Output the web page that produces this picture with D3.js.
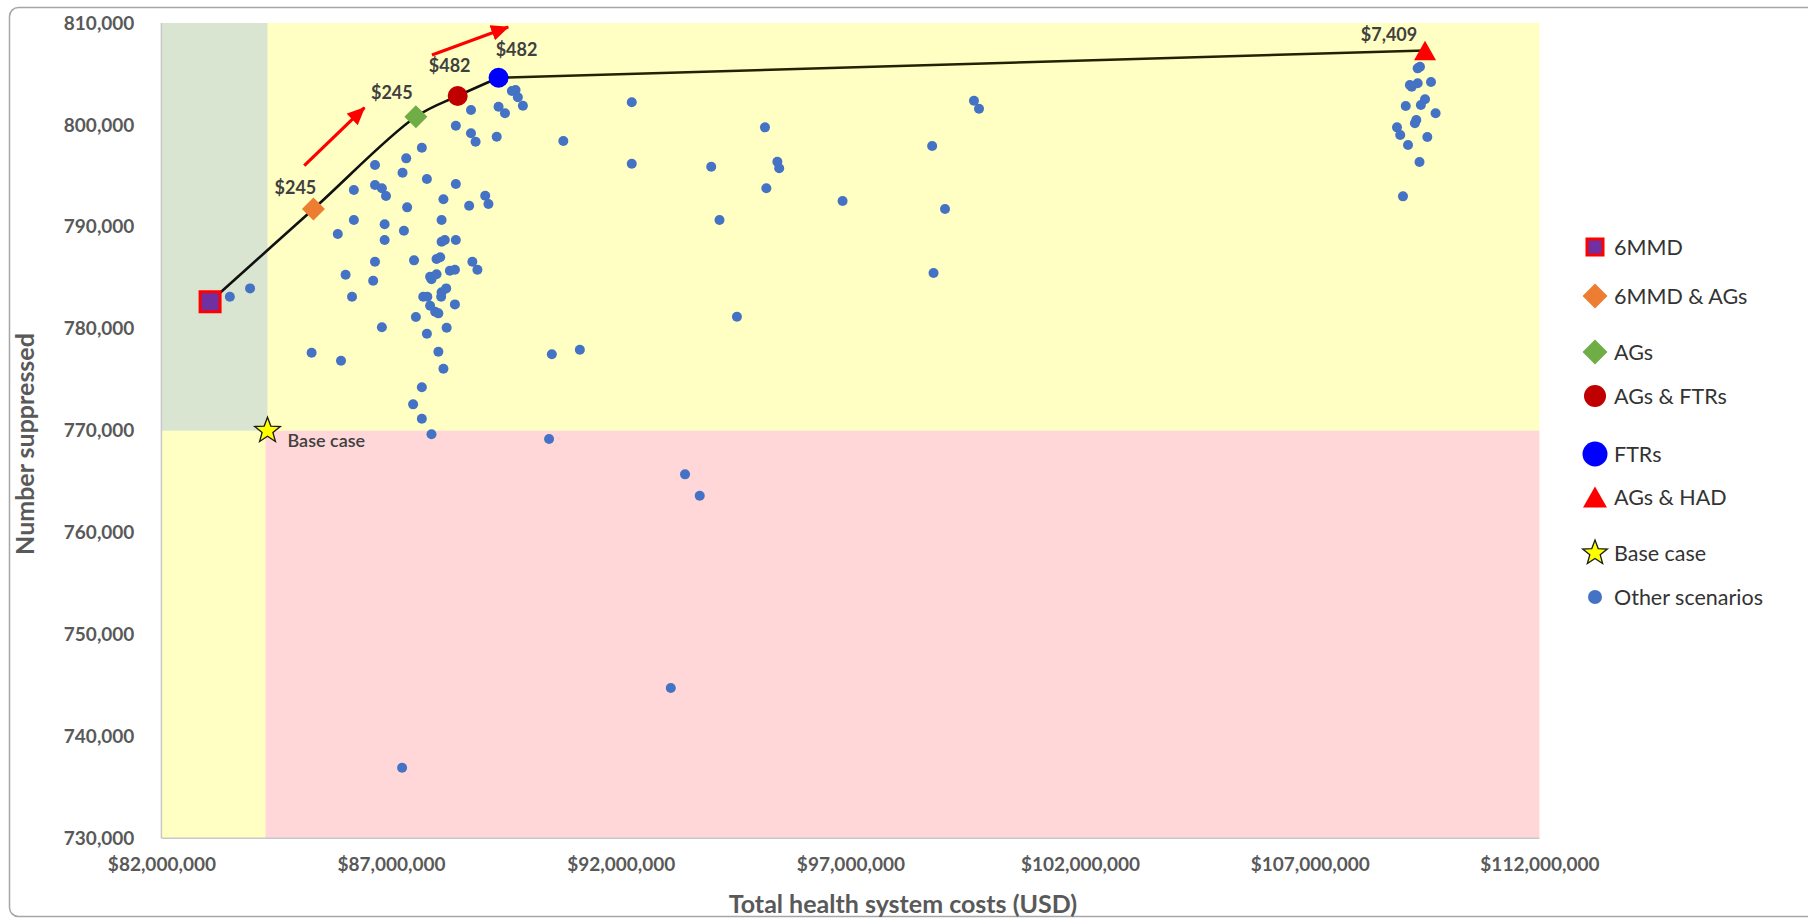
<!DOCTYPE html>
<html>
<head>
<meta charset="utf-8">
<script src="https://cdn.jsdelivr.net/npm/d3@7"></script>
<style>
  body { margin: 0; background: #fff; }
  svg text { font-family: Lato, "Open Sans", sans-serif; }
</style>
</head>
<body>
<div id="chart"></div>
<script>
// costs are in USD millions, suppressed is a head count

// the other scenarios (blue dots)
var otherCost = [
  83.49, 83.93, 86.65, 86.19, 86.65, 86.19, 85.84, 86.65, 86.01, 86.61, 86.15, 86.80, 85.27, 85.91,
  87.33, 87.67, 87.25, 86.80, 86.89, 87.78, 88.41, 88.14, 87.35, 88.70, 89.05, 89.12, 86.86, 88.10,
  87.28, 86.86, 88.10, 88.17, 88.41, 87.50, 87.99, 88.07, 88.77, 88.88, 87.85, 87.99, 87.88, 88.28,
  88.39, 88.20, 88.10, 87.70, 87.79, 88.09, 88.39, 87.85, 87.96, 88.03, 87.54, 88.21, 87.78, 88.03,
  88.14, 87.67, 87.48, 87.67, 87.88, 88.74, 88.41, 88.74, 88.84, 89.34, 89.48, 89.30, 89.63, 89.71,
  89.76, 89.87, 90.75, 90.50, 90.44,
  92.24, 92.24, 95.14, 93.97, 95.41, 95.45, 95.17, 94.15, 96.83, 98.78, 99.06, 99.69, 99.80, 98.81,
  94.53, 91.11, 93.40, 93.72, 93.09, 87.24,
  109.40, 109.35, 109.22, 109.35, 109.18, 109.64, 109.09, 109.51, 109.42, 109.74, 109.32, 109.29,
  108.90, 108.97, 109.56, 109.14, 109.39, 109.03
]
var otherSuppressed = [
  783140, 783960, 796070, 793610, 794100, 790670, 789290, 786580, 785300, 784710, 783140, 780140, 777650, 776860,
  796720, 797760, 795310, 793780, 793020, 794690, 794200, 792700, 791910, 792070, 793050, 792240, 790250, 790670,
  789620, 788700, 788540, 788700, 788700, 786710, 786840, 787010, 786580, 785790, 785100, 785340, 784850, 785690,
  785790, 783960, 783570, 783140, 783140, 783140, 782390, 782260, 781670, 781510, 781150, 780100, 779510, 777740,
  776070, 774250, 772580, 771170, 769640, 801460, 799920, 799180, 798350, 801790, 801140, 798840, 803330, 803420,
  802710, 801880, 798420, 777490, 769180,
  802220, 796190, 799760, 795900, 796390, 795740, 793780, 790670, 792530, 797930, 791750, 802370, 801590, 785470,
  781180, 777940, 765710, 763610, 744740, 736920,
  805710, 805550, 803750, 804080, 803920, 804210, 801850, 802510, 801950, 801140, 800480, 800160,
  799760, 799010, 798810, 798030, 796360, 792990
]

// scenarios on the efficiency frontier
var frontierNames = ["6MMD", "6MMD & AGs", "AGs", "AGs & FTRs", "FTRs", "AGs & HAD"]
var frontierCost = [83.06, 85.31, 87.54, 88.45, 89.34, 109.51]
var frontierSuppressed = [782650, 791750, 800800, 802840, 804630, 807300]
var frontierLabels = ["", "$245", "$245", "$482", "$482", "$7,409"]

// base case
var baseCost = 84.31
var baseSuppressed = 770000

// annotation arrows: [cost, suppressed] at tail and at head
var arrowFrom = [[85.11, 796000], [87.89, 806860]]
var arrowTo = [[86.42, 801690], [89.55, 809610]]

// axes
var xTicks = [82, 87, 92, 97, 102, 107, 112]
var yTicks = [730000, 740000, 750000, 760000, 770000, 780000, 790000, 800000, 810000]

var legendNames = ["6MMD", "6MMD & AGs", "AGs", "AGs & FTRs", "FTRs", "AGs & HAD", "Base case", "Other scenarios"]

// ---------- layout & style ----------
var width = 1808, height = 920
var plot = {left: 161.4, right: 1539.4, top: 23, bottom: 838.3}

var markerStyle = {
  "6MMD":            {type: "square",   fill: "#7030a0", stroke: "#ff0000", sw: 3,   size: 20, lsize: 16},
  "6MMD & AGs":      {type: "diamond",  fill: "#ed7d31", stroke: "none",    sw: 0,   size: 23, lsize: 25},
  "AGs":             {type: "diamond",  fill: "#70ad47", stroke: "none",    sw: 0,   size: 23, lsize: 25},
  "AGs & FTRs":      {type: "circle",   fill: "#c00000", stroke: "none",    sw: 0,   size: 20, lsize: 22},
  "FTRs":            {type: "circle",   fill: "#0000ff", stroke: "none",    sw: 0,   size: 20, lsize: 25},
  "AGs & HAD":       {type: "triangle", fill: "#ff0000", stroke: "none",    sw: 0,   size: 22, lsize: 24},
  "Base case":       {type: "star",     fill: "#ffff00", stroke: "#1a1a1a", sw: 1.3, size: 27, lsize: 26},
  "Other scenarios": {type: "circle",   fill: "#4472c4", stroke: "none",    sw: 0,   size: 10, lsize: 14}
}
// label offsets (px) relative to each frontier marker
var labelOffset = [[0, 0], [-18, -21], [-24, -24], [-8, -30], [18, -28], [-36, -16]]
var legendX = 1595, legendTextX = 1614
var legendRowY = [247, 296, 352, 396, 454, 497, 553, 597]

var x = d3.scaleLinear().domain([82, 112]).range([plot.left, plot.right])
var y = d3.scaleLinear().domain([730000, 810000]).range([plot.bottom, plot.top])

function shapePath(type, s) {
  var h = s / 2
  if (type === "square") return "M" + (-h) + "," + (-h) + "h" + s + "v" + s + "h" + (-s) + "Z"
  if (type === "diamond") return "M0," + (-h) + "L" + h + ",0L0," + h + "L" + (-h) + ",0Z"
  if (type === "circle") return "M" + (-h) + ",0A" + h + "," + h + " 0 1,0 " + h + ",0A" + h + "," + h + " 0 1,0 " + (-h) + ",0Z"
  if (type === "triangle") { var th = s * 0.88; return "M0," + (-th / 2) + "L" + h + "," + (th / 2) + "L" + (-h) + "," + (th / 2) + "Z" }
  if (type === "star") {
    var pts = []
    for (var i = 0; i < 10; i++) {
      var r = i % 2 === 0 ? h : h * 0.42
      var a = -Math.PI / 2 + i * Math.PI / 5
      pts.push([r * Math.cos(a), r * Math.sin(a)])
    }
    return "M" + pts.map(p => p[0].toFixed(2) + "," + p[1].toFixed(2)).join("L") + "Z"
  }
}

function drawMarker(g, name, cx, cy, legend) {
  var st = markerStyle[name]
  g.append("path")
    .attr("d", shapePath(st.type, legend ? st.lsize : st.size))
    .attr("transform", "translate(" + cx + "," + cy + ")")
    .attr("fill", st.fill)
    .attr("stroke", st.stroke)
    .attr("stroke-width", st.sw)
}

var svg = d3.select("#chart")
  .append("svg")
    .attr("width", width)
    .attr("height", height)

// chart frame
svg.append("rect")
  .attr("x", 9.5).attr("y", 7.5)
  .attr("width", 1830).attr("height", 909)
  .attr("rx", 9)
  .attr("fill", "#fff")
  .attr("stroke", "#a6a6a6")
  .attr("stroke-width", 1.5)

// background zones
svg.append("rect")
  .attr("x", x(82)).attr("y", y(810000))
  .attr("width", x(112) - x(82)).attr("height", y(730000) - y(810000))
  .attr("fill", "#ffffc3")
svg.append("rect")
  .attr("x", x(82)).attr("y", y(810000))
  .attr("width", x(baseCost) - x(82)).attr("height", y(baseSuppressed) - y(810000))
  .attr("fill", "#dae5d1")
svg.append("rect")
  .attr("x", x(baseCost) - 2).attr("y", y(baseSuppressed))
  .attr("width", x(112) - x(baseCost) + 2).attr("height", y(730000) - y(baseSuppressed))
  .attr("fill", "#ffd7d8")

// axes
var yAxis = svg.append("g")
  .attr("transform", "translate(" + plot.left + ",0)")
  .call(d3.axisLeft(y).tickValues(yTicks).tickFormat(d3.format(",")).tickSize(0).tickPadding(27))
var xAxis = svg.append("g")
  .attr("transform", "translate(0," + plot.bottom + ")")
  .call(d3.axisBottom(x).tickValues(xTicks).tickFormat(d => d3.format("$,")(d * 1e6)).tickSize(0).tickPadding(19))
;[xAxis, yAxis].forEach(function(a) {
  a.select(".domain").remove()
  a.selectAll("text")
    .style("font-size", "19px")
    .style("font-weight", 700)
    .attr("fill", "#595959")
})
svg.append("line")
  .attr("x1", plot.left).attr("x2", plot.left)
  .attr("y1", plot.top).attr("y2", plot.bottom)
  .attr("stroke", "#c8c8c8").attr("stroke-width", 1.5)
svg.append("line")
  .attr("x1", plot.left).attr("x2", plot.right)
  .attr("y1", plot.bottom).attr("y2", plot.bottom)
  .attr("stroke", "#c8c8c8").attr("stroke-width", 1.5)

// axis titles
svg.append("text")
  .attr("transform", "translate(34,444) rotate(-90)")
  .attr("text-anchor", "middle")
  .style("font-size", "25px").style("font-weight", 700)
  .attr("fill", "#595959")
  .text("Number suppressed")
svg.append("text")
  .attr("x", 903).attr("y", 913)
  .attr("text-anchor", "middle")
  .style("font-size", "25px").style("font-weight", 700)
  .attr("fill", "#595959")
  .text("Total health system costs (USD)")

// other scenarios
var others = otherCost.map((c, i) => ({cost: c, sup: otherSuppressed[i]}))
svg.append("g")
  .selectAll("circle")
  .data(others)
  .enter()
  .append("circle")
    .attr("cx", d => x(d.cost))
    .attr("cy", d => y(d.sup))
    .attr("r", markerStyle["Other scenarios"].size / 2)
    .attr("fill", markerStyle["Other scenarios"].fill)

// frontier line: smoothed through the close points, straight on the long last step
var frontier = frontierCost.map((c, i) => ({name: frontierNames[i], cost: c, sup: frontierSuppressed[i], label: frontierLabels[i], off: labelOffset[i]}))
var smooth = d3.line()
  .x(d => x(d.cost))
  .y(d => y(d.sup))
  .curve(d3.curveCatmullRom.alpha(0.5))
var straight = d3.line()
  .x(d => x(d.cost))
  .y(d => y(d.sup))
svg.append("path")
  .datum(frontier.slice(0, 5))
  .attr("d", smooth)
  .attr("fill", "none")
  .attr("stroke", "#111")
  .attr("stroke-width", 2.6)
svg.append("path")
  .datum(frontier.slice(4))
  .attr("d", straight)
  .attr("fill", "none")
  .attr("stroke", "#222200")
  .attr("stroke-width", 2.6)

// frontier markers
var mk = svg.append("g")
frontier.forEach(d => drawMarker(mk, d.name, x(d.cost), y(d.sup), false))
drawMarker(mk, "Base case", x(baseCost), y(baseSuppressed), false)

// data labels
svg.append("g")
  .selectAll("text")
  .data(frontier.filter(d => d.label))
  .enter()
  .append("text")
    .attr("x", d => x(d.cost) + d.off[0])
    .attr("y", d => y(d.sup) + d.off[1])
    .attr("dy", "0.35em")
    .attr("text-anchor", "middle")
    .style("font-size", "18px").style("font-weight", 700)
    .attr("fill", "#404040")
    .text(d => d.label)
svg.append("text")
  .attr("x", x(baseCost) + 20)
  .attr("y", y(baseSuppressed) + 10)
  .attr("dy", "0.35em")
  .style("font-size", "18px").style("font-weight", 600)
  .attr("fill", "#404040")
  .text("Base case")

// red arrows
svg.append("defs").append("marker")
  .attr("id", "head")
  .attr("markerUnits", "userSpaceOnUse")
  .attr("markerWidth", 20).attr("markerHeight", 18)
  .attr("refX", 17).attr("refY", 8)
  .attr("orient", "auto")
  .append("path")
    .attr("d", "M0,0L18,8L0,16Z")
    .attr("fill", "#ff0000")
svg.append("g")
  .selectAll("line")
  .data(arrowFrom.map((f, i) => ({f: f, t: arrowTo[i]})))
  .enter()
  .append("line")
    .attr("x1", d => x(d.f[0])).attr("y1", d => y(d.f[1]))
    .attr("x2", d => x(d.t[0])).attr("y2", d => y(d.t[1]))
    .attr("stroke", "#ff0000")
    .attr("stroke-width", 3.2)
    .attr("marker-end", "url(#head)")

// legend
var lg = svg.append("g")
legendNames.forEach(function(name, i) {
  drawMarker(lg, name, legendX, legendRowY[i], true)
  lg.append("text")
    .attr("x", legendTextX)
    .attr("y", legendRowY[i])
    .attr("dy", "0.35em")
    .style("font-size", "21.5px")
    .attr("fill", "#333")
    .text(name)
})
</script>
</body>
</html>
